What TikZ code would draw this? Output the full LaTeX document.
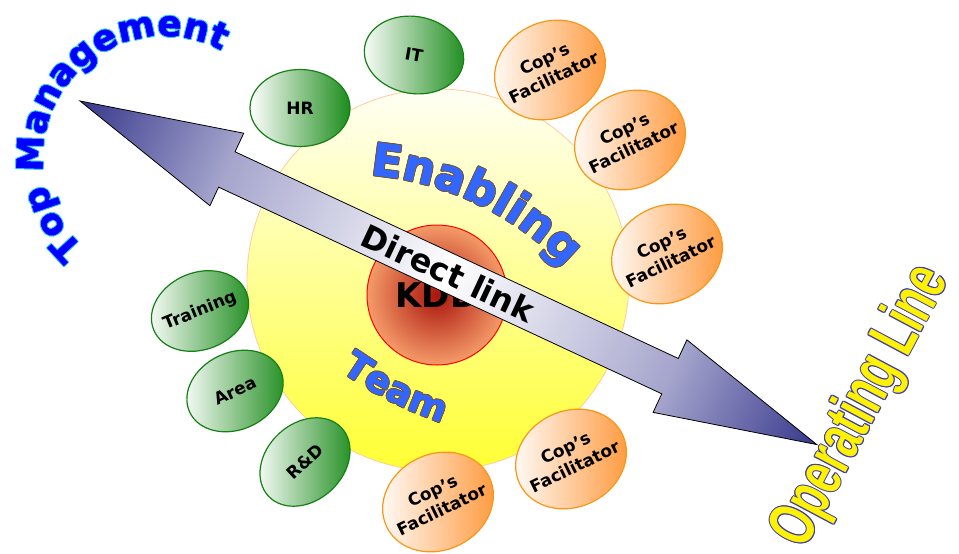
\documentclass[tikz,border=0pt]{standalone}
\usepackage{fontspec}
\setmainfont{DejaVu Sans}
\newfontfamily\linefont{Liberation Sans Bold}
\newfontfamily\heavyfont{DejaVu Sans Bold}[FakeBold=1.4]
\usetikzlibrary{shapes.geometric,decorations.text}

\definecolor{unitgreen}{RGB}{28,140,28}
\definecolor{unitedge}{RGB}{20,128,20}
\definecolor{copfill}{RGB}{255,150,55}
\definecolor{copedge}{RGB}{250,150,20}
\definecolor{ringedge}{RGB}{255,204,153}
\definecolor{kddred}{RGB}{170,20,12}
\definecolor{kddsalmon}{RGB}{245,155,105}
\definecolor{linknavy}{RGB}{55,55,140}
\definecolor{linkmid}{RGB}{165,165,205}
\definecolor{wordblue}{RGB}{51,102,255}
\definecolor{wordbrown}{RGB}{120,85,45}
\definecolor{topblue}{RGB}{0,0,255}
\definecolor{topcyan}{RGB}{60,200,255}
\definecolor{lineblue}{RGB}{60,60,170}

% dark at both tips, white in the middle of the shaft
\pgfdeclarehorizontalshading{linkshade}{100bp}{color(0bp)=(linknavy); color(25bp)=(linknavy);
    color(35bp)=(linkmid); color(50bp)=(white); color(65bp)=(linkmid);
    color(75bp)=(linknavy); color(100bp)=(linknavy)}

\newcommand\bigword{\heavyfont\fontsize{45}{54}\selectfont}
\newcommand\midword{\heavyfont\fontsize{37}{44}\selectfont}
\newcommand\topword{\heavyfont\fontsize{36}{44}\selectfont}
\newcommand\inbox[1]{\makebox[0pt]{#1}}
\newcommand\twolines[2]{\makebox[0pt]{\begin{tabular}{@{}c@{}}#1\\#2\end{tabular}}}

\tikzset{
    ring/.style =   {circle,
                    draw=ringedge,
                    top color=yellow!4,
                    middle color=yellow!25,
                    bottom color=yellow!80,
                    line width=0.8pt,
                    minimum size=382pt},
    core/.style =   {circle,
                    draw=red,
                    inner color=kddred,
                    outer color=kddsalmon,
                    line width=1pt,
                    minimum size=140pt,
                    font=\fontsize{34}{40}\selectfont\bfseries},
    unit/.style =   {ellipse,
                    draw=unitedge,
                    left color=white,
                    right color=unitgreen,
                    line width=1.2pt,
                    inner sep=0pt,
                    minimum width=100pt,
                    minimum height=77pt,
                    font=\fontsize{17}{21}\selectfont\bfseries},
    cop/.style =    {ellipse,
                    draw=copedge,
                    left color=white,
                    right color=copfill,
                    line width=1.2pt,
                    inner sep=0pt,
                    minimum width=114pt,
                    minimum height=96pt,
                    rotate=26,
                    font=\fontsize{17}{21}\selectfont\bfseries},
    link/.style =   {shading=linkshade,
                    draw=black,
                    line width=0.8pt},
    linktext/.style={font=\fontsize{32}{38}\selectfont\bfseries,
                    inner sep=0pt},
    bentword/.style 2 args={decorate,
                    decoration={text along path,
                                text align=center,
                                text color=#1,
                                text={#2}}},
    opline/.style = {rotate=62,
                    inner sep=0pt,
                    font=\linefont\fontsize{66}{72}\selectfont}
}

\begin{document}
\begin{tikzpicture}[x=1pt, y=1pt]
    \useasboundingbox (0,0) rectangle (959,-554);

    % enabling team ring with the KDD core
    \node[ring] (ring) at (438,-280) {};
    \node[core] (kdd)  at (437,-295) {KDD};

    % curved words, outline copies first
    \foreach \a in {0,45,...,315}{
        \path[shift={(\a:0.9)}, bentword={wordbrown}{|\bigword|Enabling}]
            (346,-478) ++(100:304) arc[start angle=100, end angle=29.4, radius=304];
        \path[shift={(\a:0.9)}, bentword={wordbrown}{|\midword|Team}]
            (571,-44) ++(230:400) arc[start angle=230, end angle=256, radius=400];
    }
    \path[bentword={wordblue}{|\bigword|Enabling}]
        (346,-478) ++(100:304) arc[start angle=100, end angle=29.4, radius=304];
    \path[bentword={wordblue}{|\midword|Team}]
        (571,-44) ++(230:400) arc[start angle=230, end angle=256, radius=400];

    % support units
    \node[unit, rotate=-10] (it)    at (414,-55)  {\inbox{IT}};
    \node[unit]             (hr)    at (300,-108) {\inbox{HR}};
    \node[unit, rotate=22]  (train) at (200,-311) {\inbox{Training}};
    \node[unit, rotate=25]  (area)  at (235,-391) {\inbox{Area}};
    \node[unit, rotate=43]  (rnd)   at (305,-462) {\inbox{R\&D}};

    % facilitators
    \node[cop] (cop1) at (550,-70)  {\twolines{Cop’s}{Facilitator}};
    \node[cop] (cop2) at (630,-140) {\twolines{Cop’s}{Facilitator}};
    \node[cop] (cop3) at (667,-254) {\twolines{Cop’s}{Facilitator}};
    \node[cop] (cop4) at (571,-459) {\twolines{Cop’s}{Facilitator}};
    \node[cop] (cop5) at (438,-502) {\twolines{Cop’s}{Facilitator}};

    % double arrow across the ring
    \begin{scope}[transform canvas={shift={(80,-101)}, rotate=-25}]
        \shade[link] (0,0) -- (162,40) -- (162,19.5) -- (651,19.5) -- (651,40) -- (813,0)
            -- (651,-40) -- (651,-19.5) -- (162,-19.5) -- (162,-40) -- cycle;
        \node[linktext] (link) at (406.5,0) {Direct link};
    \end{scope}

    % top management
    \foreach \a in {0,45,...,315}
        \path[shift={(\a:1)}, bentword={topcyan}{|\topword|Top Management}]
            (164,-157) ++(240:121) arc[start angle=240, end angle=50, radius=121];
    \path[bentword={topblue}{|\topword|Top Management}]
        (164,-157) ++(240:121) arc[start angle=240, end angle=50, radius=121];

    % operating line
    \foreach \a in {0,45,...,315}
        \node[opline, text=lineblue] (edge\a) at ([shift={(\a:1)}]862,-407) {\scalebox{0.66}[1]{Operating Line}};
    \node[opline, text=yellow] (opline) at (862,-407) {\scalebox{0.66}[1]{Operating Line}};
\end{tikzpicture}
\end{document}
